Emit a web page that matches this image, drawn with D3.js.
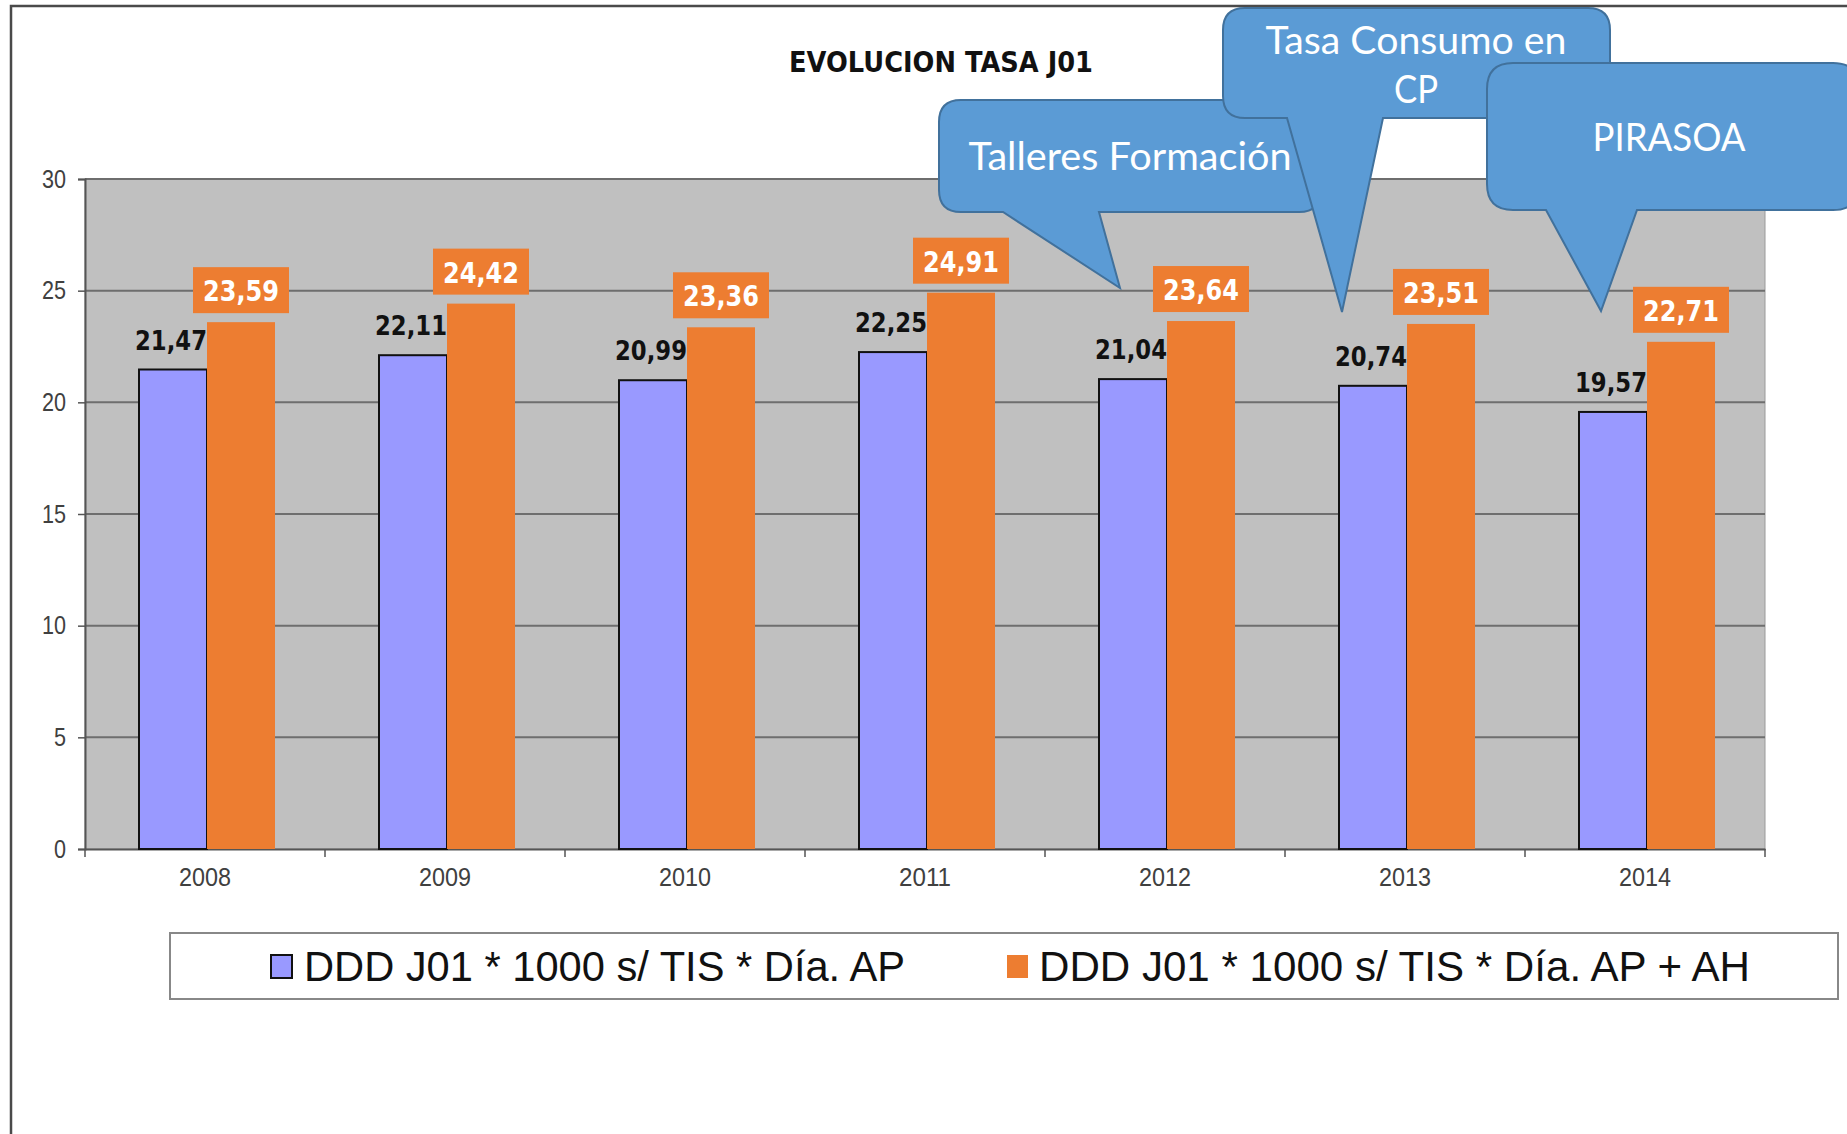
<!DOCTYPE html>
<html>
<head>
<meta charset="utf-8">
<script src="https://cdn.jsdelivr.net/npm/d3@7"></script>
<style>
  body { margin: 0; background: #fff; }
  svg { display: block; }
</style>
</head>
<body>
<svg id="chart"></svg>
<script>
// data
var years = ["2008", "2009", "2010", "2011", "2012", "2013", "2014"];
var apValues = [21.47, 22.11, 20.99, 22.25, 21.04, 20.74, 19.57];
var apAhValues = [23.59, 24.42, 23.36, 24.91, 23.64, 23.51, 22.71];
var seriesNames = ["DDD J01 * 1000 s/ TIS * Día. AP", "DDD J01 * 1000 s/ TIS * Día. AP + AH"];
var yTicks = [0, 5, 10, 15, 20, 25, 30];
var chartTitle = "EVOLUCION TASA J01";
var calloutTexts = [["Talleres Formación"], ["Tasa Consumo en", "CP"], ["PIRASOA"]];

var width = 1847, height = 1134;
var plot = { left: 85, right: 1765, top: 179, bottom: 849 };
var colors = { ap: "#9999FF", apah: "#ED7D31" };
var fmt = v => d3.format(".2f")(v).replace(".", ",");

var svg = d3.select("#chart")
    .attr("width", width)
    .attr("height", height);

// outer frame (only top and left edges visible)
svg.append("path")
    .attr("d", "M11,1134 V6 H1847")
    .attr("fill", "none")
    .attr("stroke", "#4a4a4a")
    .attr("stroke-width", 2.5);

// title
svg.append("text")
    .attr("x", 941)
    .attr("y", 72)
    .attr("text-anchor", "middle")
    .attr("font-family", "DejaVu Sans")
    .attr("font-weight", "bold")
    .attr("font-size", 29)
    .attr("textLength", 304)
    .attr("lengthAdjust", "spacingAndGlyphs")
    .attr("fill", "#111")
    .text(chartTitle);

// scales
var x0 = d3.scaleBand()
    .domain(years)
    .range([plot.left, plot.right]);

var x1 = d3.scaleBand()
    .domain(["ap", "apah"])
    .range([54, 190]);

var y = d3.scaleLinear()
    .domain([0, 30])
    .range([plot.bottom, plot.top]);

// plot background
svg.append("rect")
    .attr("x", plot.left)
    .attr("y", plot.top)
    .attr("width", plot.right - plot.left)
    .attr("height", plot.bottom - plot.top)
    .attr("fill", "#C0C0C0")
    .attr("stroke", "#9a9a9a")
    .attr("stroke-width", 1);

// gridlines
svg.append("g")
    .selectAll("line")
    .data(yTicks.filter(d => d > 0))
    .enter()
    .append("line")
    .attr("x1", plot.left)
    .attr("x2", plot.right)
    .attr("y1", d => y(d))
    .attr("y2", d => y(d))
    .attr("stroke", "#6e6e6e")
    .attr("stroke-width", 2);

// y axis
var yAxis = svg.append("g")
    .attr("transform", `translate(${plot.left}, 0)`)
    .call(d3.axisLeft(y).tickValues(yTicks).tickSize(7).tickPadding(12));
yAxis.select(".domain").attr("stroke", "#555").attr("stroke-width", 2);
yAxis.selectAll(".tick line").attr("stroke", "#555").attr("stroke-width", 1.5);
yAxis.selectAll(".tick text")
    .attr("font-family", "Liberation Sans")
    .attr("font-size", 25)
    .attr("textLength", d => String(d).length * 12)
    .attr("lengthAdjust", "spacingAndGlyphs")
    .attr("fill", "#404040");

// x axis
var xAxis = svg.append("g")
    .attr("transform", `translate(0, ${plot.bottom})`)
    .call(d3.axisBottom(x0).tickSize(0).tickPadding(19));
xAxis.select(".domain").attr("stroke", "#555").attr("stroke-width", 2);
xAxis.selectAll(".tick text")
    .attr("font-family", "Liberation Sans")
    .attr("font-size", 25)
    .attr("textLength", 52)
    .attr("lengthAdjust", "spacingAndGlyphs")
    .attr("fill", "#404040");

// category boundary ticks
var bounds = years.map(d => x0(d)).concat([plot.right]);
svg.append("g")
    .selectAll("line")
    .data(bounds)
    .enter()
    .append("line")
    .attr("x1", d => d)
    .attr("x2", d => d)
    .attr("y1", plot.bottom)
    .attr("y2", plot.bottom + 8)
    .attr("stroke", "#555")
    .attr("stroke-width", 1.5);

// bars
var rows = years.map((yr, i) => ({ year: yr, ap: apValues[i], apah: apAhValues[i] }));

var groups = svg.append("g")
    .selectAll("g")
    .data(rows)
    .enter()
    .append("g")
    .attr("transform", d => `translate(${x0(d.year)}, 0)`);

groups.append("rect")
    .attr("x", x1("ap"))
    .attr("y", d => y(d.ap))
    .attr("width", x1.bandwidth())
    .attr("height", d => y(0) - y(d.ap))
    .attr("fill", colors.ap)
    .attr("stroke", "#111")
    .attr("stroke-width", 2);

groups.append("rect")
    .attr("x", x1("apah"))
    .attr("y", d => y(d.apah))
    .attr("width", x1.bandwidth())
    .attr("height", d => y(0) - y(d.apah))
    .attr("fill", colors.apah);

// value labels, AP series: plain black text
groups.append("text")
    .attr("x", x1("ap") + x1.bandwidth() / 2 - 2)
    .attr("y", d => y(d.ap) - 20)
    .attr("text-anchor", "middle")
    .attr("font-family", "DejaVu Sans")
    .attr("font-weight", "bold")
    .attr("font-size", 27)
    .attr("textLength", 72)
    .attr("lengthAdjust", "spacingAndGlyphs")
    .attr("fill", "#111")
    .text(d => fmt(d.ap));

// value labels, AP + AH series: white text on orange box
groups.append("rect")
    .attr("x", x1("apah") + x1.bandwidth() / 2 - 48)
    .attr("y", d => y(d.apah) - 9 - 46)
    .attr("width", 96)
    .attr("height", 46)
    .attr("fill", colors.apah);

groups.append("text")
    .attr("x", x1("apah") + x1.bandwidth() / 2)
    .attr("y", d => y(d.apah) - 9 - 12)
    .attr("text-anchor", "middle")
    .attr("font-family", "DejaVu Sans")
    .attr("font-weight", "bold")
    .attr("font-size", 28)
    .attr("textLength", 76)
    .attr("lengthAdjust", "spacingAndGlyphs")
    .attr("fill", "#fff")
    .text(d => fmt(d.apah));

// legend
var legend = svg.append("g");
legend.append("rect")
    .attr("x", 170)
    .attr("y", 933)
    .attr("width", 1668)
    .attr("height", 66)
    .attr("fill", "#fff")
    .attr("stroke", "#888")
    .attr("stroke-width", 2);

var legendItems = [
    { name: seriesNames[0], color: colors.ap, stroke: "#111", sx: 271, tx: 304, tl: 601 },
    { name: seriesNames[1], color: colors.apah, stroke: "none", sx: 1007, tx: 1039, tl: 711 }
];

legend.selectAll(".swatch")
    .data(legendItems)
    .enter()
    .append("rect")
    .attr("class", "swatch")
    .attr("x", d => d.sx)
    .attr("y", 955)
    .attr("width", 21)
    .attr("height", 23)
    .attr("fill", d => d.color)
    .attr("stroke", d => d.stroke)
    .attr("stroke-width", 2);

legend.selectAll(".label")
    .data(legendItems)
    .enter()
    .append("text")
    .attr("class", "label")
    .attr("x", d => d.tx)
    .attr("y", 981)
    .attr("font-family", "Liberation Sans")
    .attr("font-size", 43)
    .attr("textLength", d => d.tl)
    .attr("lengthAdjust", "spacingAndGlyphs")
    .attr("fill", "#111")
    .text(d => d.name);

// callouts (rounded rect with a wedge pointer)
function calloutPath(bx, by, bw, bh, r, p1, p2, tx, ty) {
    return `M${bx + r},${by} H${bx + bw - r} Q${bx + bw},${by} ${bx + bw},${by + r}` +
        ` V${by + bh - r} Q${bx + bw},${by + bh} ${bx + bw - r},${by + bh}` +
        ` H${p2} L${tx},${ty} L${p1},${by + bh}` +
        ` H${bx + r} Q${bx},${by + bh} ${bx},${by + bh - r}` +
        ` V${by + r} Q${bx},${by} ${bx + r},${by} Z`;
}

var calloutShapes = [
    { box: [939, 100, 382, 112, 22], base: [1003, 1099], tip: [1120, 288], cx: 1130, lines: [170], tl: [323] },
    { box: [1223, 8, 387, 110, 22], base: [1287, 1383], tip: [1342, 312], cx: 1416, lines: [54, 103], tl: [301, 44] },
    { box: [1487, 63, 372, 147, 26], base: [1546, 1637], tip: [1601, 311], cx: 1669, lines: [151], tl: [153] }
];

calloutShapes.forEach(function(c, i) {
    var b = c.box;
    var g = svg.append("g");
    g.append("path")
        .attr("d", calloutPath(b[0], b[1], b[2], b[3], b[4], c.base[0], c.base[1], c.tip[0], c.tip[1]))
        .attr("fill", "#5B9BD5")
        .attr("stroke", "#41719C")
        .attr("stroke-width", 2);
    calloutTexts[i].forEach(function(t, j) {
        g.append("text")
            .attr("x", c.cx)
            .attr("y", c.lines[j])
            .attr("text-anchor", "middle")
            .attr("font-family", "Lato")
            .attr("font-size", 39)
            .attr("textLength", c.tl[j])
            .attr("lengthAdjust", "spacingAndGlyphs")
            .attr("fill", "#fff")
            .text(t);
    });
});
</script>
</body>
</html>
